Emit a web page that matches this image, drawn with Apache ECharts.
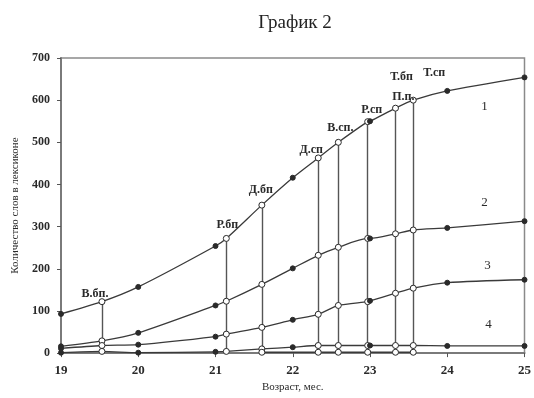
<!DOCTYPE html>
<html>
<head>
<meta charset="utf-8">
<script src="https://cdn.jsdelivr.net/npm/echarts@6/dist/echarts.min.js"></script>
<style>html,body{margin:0;padding:0;background:#fff}#c{width:534px;height:398px}</style>
</head>
<body>
<div id="c"></div>
<script>
// ---- data ----
var titleText = 'График 2';
var xName = 'Возраст, мес.';
var yName = 'Количество слов в лексиконе';
var months = [19, 20, 21, 22, 23, 24, 25];
var milestoneNames = ['В.бп.', 'Р.бп', 'Д.бп', 'Д.сп', 'В.сп.', 'Р.сп', 'Т.бп', 'П.п.'];
var milestoneAges  = [19.53, 21.14, 21.6, 22.33, 22.59, 22.97, 23.33, 23.56];
var curveNames = ['1', '2', '3', '4'];
var extraLabel = 'Т.сп';
// values at whole months (filled dots)
var curve1Months = [93, 157, 254, 416, 550, 622, 654];
var curve2Months = [16, 48, 113, 201, 272, 297, 313];
var curve3Months = [11, 20, 39, 79, 124, 167, 174];
var curve4Months = [1, 1, 3, 14, 18, 17, 17];
// values at milestone ages (open circles)
var curve1Miles = [122, 272, 351, 463, 500, 549, 581, 600];
var curve2Miles = [29, 123, 163, 232, 251, 272, 283, 292];
var curve3Miles = [18, 45, 61, 92, 113, 122, 142, 154];
var curve4Miles = [4, 4, 10, 18, 18, 18, 18, 18];
var curve5Miles = [null, null, 2, 2, 2, 2, 2, 2];

// ---- build ----
var FONT = '"Liberation Serif","DejaVu Serif",serif';
var INK = '#2a2a2a';
var milesOffsets = [[-7,-8],[1,-14],[-1,-15],[-7,-8],[2,-14],[4,-12],[6,-31],[-10,-3]];
var curveLabelOffsets = [[-40,29],[-40,-19],[-37,-14],[-36,-21]];

function buildSeries(idx, mVals, sVals) {
  var pts = [];
  months.forEach(function (m, i) {
    if (mVals[i] == null) return;
    var item = {value: [m, mVals[i]], symbolSize: 5,
      itemStyle: {color: INK, borderColor: INK, borderWidth: 1}};
    if (i === months.length - 1 && curveNames[idx] != null) {
      item.label = {show: true, formatter: curveNames[idx], position: 'inside',
        offset: curveLabelOffsets[idx], color: INK, fontFamily: FONT, fontSize: 13};
    }
    if (idx === 0 && m === 24) {
      item.label = {show: true, formatter: extraLabel, position: 'inside',
        offset: [-13, -18], color: INK, fontFamily: FONT, fontSize: 12, fontWeight: 'bold'};
    }
    pts.push(item);
  });
  milestoneAges.forEach(function (a, i) {
    if (sVals[i] == null) return;
    var item = {value: [a, sVals[i]], symbolSize: 6,
      itemStyle: {color: '#fff', borderColor: INK, borderWidth: 1}};
    if (idx === 0) {
      item.label = {show: true, formatter: milestoneNames[i], position: 'inside',
        offset: milesOffsets[i], color: INK, fontFamily: FONT, fontSize: 12, fontWeight: 'bold'};
    }
    pts.push(item);
  });
  pts.sort(function (a, b) { return a.value[0] - b.value[0]; });
  var s = {
    type: 'line', data: pts, smooth: 0.25, symbol: 'circle', showSymbol: true,
    lineStyle: {color: '#3a3a3a', width: 1.3}, animation: false, z: 5 + idx,
    label: {show: false}, emphasis: {disabled: true}
  };
  if (idx === 0) {
    s.markLine = {
      silent: true, symbol: 'none', animation: false, label: {show: false},
      lineStyle: {color: '#555', width: 1.4, type: 'solid'},
      data: milestoneAges.map(function (a, i) {
        return [{coord: [a, 0]}, {coord: [a, curve1Miles[i]]}];
      })
    };
  }
  return s;
}

var series = [
  buildSeries(0, curve1Months, curve1Miles),
  buildSeries(1, curve2Months, curve2Miles),
  buildSeries(2, curve3Months, curve3Miles),
  buildSeries(3, curve4Months, curve4Miles),
  buildSeries(4, months.map(function(){return null;}), curve5Miles)
];

var chart = echarts.init(document.getElementById('c'), null, {renderer: 'canvas'});
chart.setOption({
  backgroundColor: '#fff',
  animation: false,
  title: {text: titleText, left: 290, top: 9, textAlign: 'center',
    textStyle: {fontFamily: FONT, fontSize: 19, fontWeight: 'normal', color: '#222'}},
  grid: {left: 61, right: 4, top: 58, bottom: 44, show: true, borderColor: '#8a8a8a', borderWidth: 1.5, backgroundColor: 'transparent'},
  xAxis: {
    type: 'value', min: 19, max: 25, interval: 1,
    name: xName, nameLocation: 'middle', nameGap: 24,
    nameTextStyle: {fontFamily: FONT, fontSize: 11, color: INK},
    axisLine: {lineStyle: {color: '#7a7a7a', width: 2}},
    axisTick: {length: 4, lineStyle: {color: '#555'}},
    axisLabel: {fontFamily: FONT, fontSize: 13, fontWeight: 'bold', color: INK, margin: 11},
    splitLine: {show: false}
  },
  yAxis: {
    type: 'value', min: 0, max: 700, interval: 100,
    name: yName, nameLocation: 'middle', nameGap: 30,
    nameTextStyle: {fontFamily: FONT, fontSize: 11, color: INK},
    axisLine: {show: true, lineStyle: {color: '#7a7a7a', width: 2}},
    axisTick: {show: true, length: 4, lineStyle: {color: '#555'}},
    axisLabel: {fontFamily: FONT, fontSize: 12, fontWeight: 'bold', color: INK, margin: 11},
    splitLine: {show: false}
  },
  series: series
});
</script>
</body>
</html>
